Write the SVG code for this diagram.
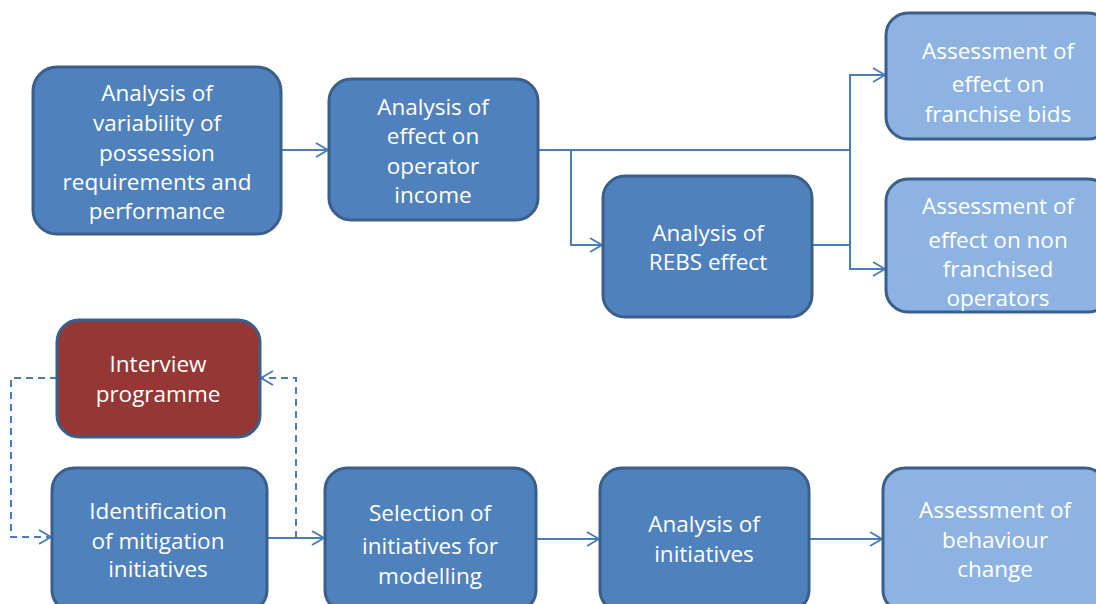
<svg xmlns="http://www.w3.org/2000/svg" width="1096" height="604" viewBox="0 0 1096 604">
<style>
.box{stroke:#3a5f8b;stroke-width:3}
.dark{fill:#4f81bd}
.light{fill:#8db3e2}
.red{fill:#953735}
text{font-family:"Open Sans","DejaVu Sans",sans-serif;font-size:22.5px;fill:#ffffff;text-anchor:middle;dominant-baseline:central}
.conn{fill:none;stroke:#4a7ebb;stroke-width:2}
.dash{stroke-dasharray:7 5}
</style>
<defs>
<marker id="arr" viewBox="0 0 14 16" refX="13" refY="8" markerWidth="14" markerHeight="16" markerUnits="userSpaceOnUse" orient="auto">
<path d="M1,1 L13,8 L1,15" fill="none" stroke="#4a7ebb" stroke-width="2"/>
</marker>
</defs>
<rect width="1096" height="604" fill="#ffffff"/>
<g id="connectors">
<path class="conn" d="M281,150 H328" marker-end="url(#arr)"/>
<path class="conn" d="M538,150 H850 V75 H885" marker-end="url(#arr)"/>
<path class="conn" d="M850,150 V269 H885" marker-end="url(#arr)"/>
<path class="conn" d="M571,150 V245 H602" marker-end="url(#arr)"/>
<path class="conn" d="M812,245 H850"/>
<path class="conn" d="M266,538 H324" marker-end="url(#arr)"/>
<path class="conn" d="M536,539 H599" marker-end="url(#arr)"/>
<path class="conn" d="M809,539 H882" marker-end="url(#arr)"/>
<path class="conn dash" d="M57,378 H11 V537 H51" marker-end="url(#arr)"/>
<path class="conn dash" d="M296,538 V378 H261" marker-end="url(#arr)"/>
</g>
<g id="node-variability">
<rect class="box dark" x="33" y="67" width="248" height="167" rx="24"/>
<text x="157" y="92">Analysis of</text>
<text x="157" y="122">variability of</text>
<text x="157" y="152">possession</text>
<text x="157" y="181">requirements and</text>
<text x="157" y="210">performance</text>
</g>
<g id="node-operator-income">
<rect class="box dark" x="329" y="79" width="209" height="141" rx="22"/>
<text x="433" y="106">Analysis of</text>
<text x="433" y="135">effect on</text>
<text x="433" y="165">operator</text>
<text x="433" y="194">income</text>
</g>
<g id="node-rebs">
<rect class="box dark" x="603" y="176" width="209" height="141" rx="22"/>
<text x="708" y="232">Analysis of</text>
<text x="708" y="261">REBS effect</text>
</g>
<g id="node-franchise-bids">
<rect class="box light" x="886" y="13" width="224" height="126" rx="22"/>
<text x="998" y="50">Assessment of</text>
<text x="998" y="83">effect on</text>
<text x="998" y="113">franchise bids</text>
</g>
<g id="node-non-franchised">
<rect class="box light" x="886" y="179" width="224" height="133" rx="22"/>
<text x="998" y="205">Assessment of</text>
<text x="998" y="239">effect on non</text>
<text x="998" y="268">franchised</text>
<text x="998" y="297">operators</text>
</g>
<g id="node-interview">
<rect class="box red" x="57" y="320" width="203" height="117" rx="22"/>
<text x="158" y="363">Interview</text>
<text x="158" y="393">programme</text>
</g>
<g id="node-identification">
<rect class="box dark" x="52" y="468" width="215" height="144" rx="22"/>
<text x="158" y="510">Identification</text>
<text x="158" y="540">of mitigation</text>
<text x="158" y="568">initiatives</text>
</g>
<g id="node-selection">
<rect class="box dark" x="325" y="468" width="211" height="144" rx="22"/>
<text x="430" y="512">Selection of</text>
<text x="430" y="545">initiatives for</text>
<text x="430" y="575">modelling</text>
</g>
<g id="node-analysis-initiatives">
<rect class="box dark" x="600" y="468" width="209" height="144" rx="22"/>
<text x="704" y="523">Analysis of</text>
<text x="704" y="553">initiatives</text>
</g>
<g id="node-behaviour">
<rect class="box light" x="883" y="468" width="224" height="144" rx="22"/>
<text x="995" y="509">Assessment of</text>
<text x="995" y="539">behaviour</text>
<text x="995" y="568">change</text>
</g>
</svg>
